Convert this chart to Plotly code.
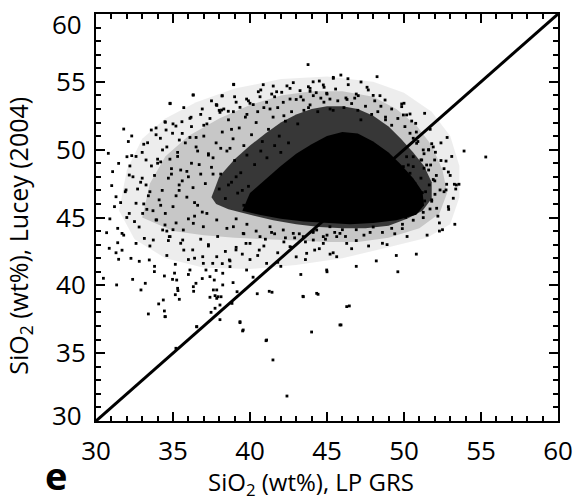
import plotly.graph_objects as go

# Axis / tick setup
x_range = [30, 60]
y_range = [30, 60]
x_tick_vals = [30, 35, 40, 45, 50, 55, 60]
x_tick_text = ["30", "35", "40", "45", "50", "55", "60"]
y_tick_vals = [35, 40, 45, 50, 55]
y_tick_text = ["35", "40", "45", "50", "55"]

# 1:1 reference line
line_x = [30, 60]
line_y = [30, 60]

# Outline of the outer, sparsely speckled fringe of the cloud
fringe_x = [31.5, 32.0, 33.0, 34.5, 36.5, 39.0, 42.0, 45.0, 48.0, 50.0, 51.8, 53.0, 53.6, 53.6, 53.0, 51.5,
            49.0, 46.0, 43.0, 40.0, 37.0, 34.5, 32.5, 31.5]
fringe_y = [45.5, 48.5, 50.8, 52.3, 53.5, 54.5, 55.2, 55.4, 55.0, 54.2, 52.8, 51.0, 48.8, 46.5, 44.5, 43.5,
            42.8, 42.0, 41.5, 41.2, 41.3, 42.0, 43.4, 45.5]
# Outline of the loosely speckled halo
halo_x = [33.0, 33.5, 34.5, 36.0, 38.0, 40.0, 42.0, 44.0, 46.0, 48.0, 49.5, 50.8, 51.8, 52.5, 52.8, 52.3,
          51.0, 49.0, 47.0, 45.0, 43.0, 41.0, 39.0, 37.0, 35.0, 33.0]
halo_y = [45.0, 47.5, 49.5, 51.0, 52.3, 53.3, 54.0, 54.3, 54.3, 53.9, 53.0, 51.8, 50.3, 48.5, 46.8, 45.3,
          44.2, 43.5, 43.2, 43.2, 43.3, 43.4, 43.5, 43.7, 44.0, 45.0]
# Outline of the densely packed part of the cloud
dense_x = [37.5, 38.0, 39.0, 40.0, 41.0, 42.0, 43.0, 44.0, 45.0, 46.0, 47.0, 48.0, 49.0, 49.8, 50.6, 51.3,
           51.8, 51.8, 51.2, 50.2, 49.0, 47.5, 46.0, 44.5, 43.0, 41.5, 40.0, 38.6, 37.8, 37.5]
dense_y = [46.5, 48.0, 49.3, 50.3, 51.2, 52.0, 52.6, 53.0, 53.2, 53.2, 53.0, 52.5, 51.7, 50.8, 49.8, 48.8,
           47.6, 46.4, 45.5, 44.9, 44.4, 44.2, 44.2, 44.3, 44.5, 44.8, 45.2, 45.6, 46.0, 46.5]
# Outline of the solid black core
core_x = [39.5, 40.0, 41.0, 42.0, 43.0, 44.0, 45.0, 46.0, 47.0, 48.0, 49.0, 49.8, 50.6, 51.2, 51.3, 50.8,
          49.5, 48.0, 46.5, 45.0, 43.5, 42.0, 40.6, 39.5]
core_y = [45.5, 46.8, 47.8, 48.8, 49.7, 50.4, 51.0, 51.3, 51.2, 50.6, 49.8, 48.9, 47.9, 46.9, 45.9, 45.2,
          44.8, 44.6, 44.5, 44.6, 44.7, 44.9, 45.2, 45.5]

# Individual points (LP GRS SiO2, Lucey SiO2)
pts_x = [
    38.94, 36.30, 38.18, 34.81, 37.84, 30.80, 31.80, 32.32, 33.59, 34.50, 33.35, 32.01, 32.32, 31.47, 33.25,
    34.18, 35.19, 35.58, 36.17, 34.97, 34.55, 35.41, 34.32,
    31.02, 30.48, 31.34, 30.69, 31.41, 31.69, 30.86, 31.41, 31.69, 31.47, 32.27, 32.38, 33.20, 32.81, 33.46,
    33.79, 34.44, 34.97, 35.30, 35.15, 32.60, 33.14, 32.16, 31.30, 31.95, 31.08, 32.16, 33.25, 32.60, 33.03,
    33.90, 34.33, 34.76, 35.63, 36.28, 36.93, 37.58, 37.14, 38.23, 38.66, 39.09, 39.74, 36.49, 37.68, 38.23,
    37.92,
    32.92, 34.07, 33.40, 34.44, 34.50, 35.15, 35.32, 35.41, 36.34, 36.54, 35.19, 37.40, 37.73, 37.84, 38.12,
    37.62, 37.73, 38.05, 37.47, 38.05, 38.83, 39.16, 40.47, 41.25, 41.43, 39.35, 39.52, 41.04, 41.49, 42.40,
    43.44, 44.42, 46.45, 45.91, 44.00,
    53.90, 55.31, 52.88, 52.73, 51.34, 50.39, 50.50, 50.76, 51.80, 52.04, 51.60, 51.99, 51.15, 51.47, 51.73,
    51.30, 52.77, 53.27, 53.57, 53.36, 52.73, 52.34, 51.64, 52.01, 51.19, 53.20, 52.88, 52.12, 51.69, 51.34,
    51.25, 51.25, 50.71, 50.54, 50.11, 49.89, 49.74, 50.39, 50.17, 50.60, 50.71, 50.06, 50.39, 50.60, 50.28,
    49.96, 50.60, 50.17, 51.10, 51.25, 50.82, 50.60, 50.39, 50.06, 49.96, 49.85, 50.00, 50.17,
    43.77, 38.94, 38.20, 37.81, 40.86, 41.51, 42.81, 44.50, 45.41, 46.36, 47.21, 48.25, 46.38, 43.79, 45.56,
    44.81, 47.68, 48.44, 48.77, 49.85, 47.03, 46.23, 40.54, 39.78, 41.41, 42.06, 43.25, 43.90, 44.11, 44.98,
    45.19, 43.46, 42.60, 42.16, 41.08, 40.21, 39.35, 38.59, 38.05,
    36.32, 34.81, 34.48, 36.10, 37.84, 38.16, 38.92, 40.00, 40.65, 41.73, 42.60, 43.90, 44.76, 45.41,
    33.94, 34.48, 33.72, 34.81, 35.67, 36.32, 36.97, 37.84, 38.92, 39.56, 40.00, 40.65, 41.30, 42.16, 42.81,
    43.46, 44.33, 45.19, 45.84, 44.76, 45.63, 43.68, 42.60, 41.08, 39.78, 38.70, 37.84, 36.97, 36.10, 35.24,
    37.40, 37.84, 36.32, 34.37, 34.48, 36.54, 39.35, 39.56, 41.08, 43.46, 44.33, 45.84, 44.98, 46.28, 46.28,
    44.76, 44.11, 45.63,
    36.5, 37.0, 37.3, 37.8, 38.2, 38.5, 38.9, 39.3, 39.6, 40.1, 40.4, 40.8, 41.2, 41.5, 41.9, 42.3, 42.7, 43.1,
    43.5, 43.9, 44.4, 44.8, 45.2, 45.7, 46.1, 46.6, 47.0, 47.5, 47.9, 48.3, 48.8, 49.2, 49.6, 37.5, 36.8, 36.2,
    35.8, 35.3, 34.9, 35.6, 36.3, 34.6, 34.2, 33.8, 33.5, 34.1, 35.0, 35.9, 36.6, 37.2, 36.0, 35.2, 34.5, 33.3,
    32.9, 32.6, 33.1, 33.9, 35.0, 36.2, 37.4, 38.6, 39.8, 40.9, 36.9, 35.7, 39.1, 41.8, 44.3, 46.9, 48.1, 49.2,
    50.9, 51.3, 51.6, 51.9, 51.1, 51.4, 51.8, 50.9, 50.6, 49.9, 49.2, 48.6, 48.0, 47.4, 46.9, 46.2, 45.5, 44.9,
    44.1, 43.6, 42.9, 42.2, 41.6, 41.0, 40.4, 39.8, 39.1, 38.5, 37.9, 37.3, 38.4, 39.5, 40.6, 41.8, 43.0, 44.2,
    45.2, 46.6, 47.7, 48.9, 50.2, 49.5, 48.2, 46.9, 45.0, 43.3, 42.0, 40.2, 38.9, 49.6, 50.8, 51.5, 52.3, 52.6,
    53.0, 52.4, 51.7, 50.8,
    36.0, 36.7, 37.1, 37.6, 38.0, 38.4, 38.8, 39.2, 39.6, 39.9, 36.4, 36.9, 35.4, 35.9, 34.7, 35.2, 34.0, 33.6,
    38.7, 39.0, 39.4, 39.8, 40.3, 40.7, 41.1, 41.6, 42.0, 42.5, 37.6, 38.1, 38.6, 39.1, 39.5, 36.1, 36.6, 37.0,
    31.2, 31.9, 32.5, 33.0, 33.7, 34.3, 35.0, 35.5, 30.9, 31.6, 32.2, 32.8, 33.4, 34.0, 34.7, 35.4, 31.3, 32.0,
    32.7, 33.5, 34.2, 34.9, 35.7, 36.4, 31.8, 32.4, 33.1, 33.8, 34.6, 35.3, 36.0, 36.8, 32.1, 33.0, 33.9, 34.8,
    35.6, 36.5, 37.3, 38.1,
    36.8, 37.5, 38.3, 39.0, 39.9, 40.7, 41.6, 42.4, 43.3, 44.1, 45.0, 45.9, 46.8, 47.6, 48.5, 37.2, 38.0, 38.8,
    39.7, 40.5, 41.3, 42.2, 43.0, 43.8, 44.6, 45.4, 46.3, 47.2, 48.0, 48.8,
    34.6, 35.5, 36.4, 37.3, 38.2, 39.1, 40.0, 40.9, 41.8, 42.7, 43.6, 44.5, 45.4, 35.1, 36.0, 36.9, 37.8, 38.7,
    39.6, 40.5, 41.4, 42.3, 43.2, 44.1, 45.0, 46.0, 46.9, 47.8, 48.6, 49.4,
    52.2, 52.5, 52.9, 53.3, 52.0, 52.6, 53.1, 51.9, 52.4, 52.8, 51.6, 52.1, 53.4, 52.3, 51.8,
]
pts_y = [
    54.82, 54.03, 53.96, 53.39, 53.27, 49.73, 51.52, 51.01, 51.45, 52.02, 50.51, 49.48, 49.56, 48.99, 49.24,
    50.84, 51.74, 52.06, 52.39, 51.21, 51.45, 50.71, 49.98,
    47.35, 40.52, 40.03, 43.88, 44.20, 43.83, 42.73, 43.14, 42.59, 41.92, 41.99, 40.44, 40.15, 41.77, 41.87,
    41.01, 40.69, 40.44, 39.78, 41.55, 43.09, 43.46, 45.30, 46.53, 47.03, 48.38, 48.13, 47.40, 46.05, 45.30,
    44.82, 44.08, 43.59, 43.34, 42.61, 42.11, 41.62, 41.13, 40.89, 41.87, 42.61, 43.09, 40.15, 40.39, 40.03,
    39.16,
    39.66, 38.63, 37.89, 38.11, 37.69, 39.31, 39.61, 38.97, 39.56, 36.95, 35.36, 39.12, 39.24, 39.04, 39.16,
    39.66, 38.31, 38.55, 38.01, 37.47, 38.67, 39.53, 39.38, 39.56, 39.49, 37.25, 36.64, 35.92, 34.50, 31.84,
    39.19, 39.34, 38.48, 37.08, 36.56,
    49.90, 49.46, 48.35, 49.16, 52.68, 52.63, 52.11, 51.94, 50.44, 49.81, 49.98, 49.24, 49.24, 48.87, 48.87,
    48.63, 47.45, 47.45, 47.45, 47.10, 47.03, 47.03, 47.40, 46.71, 46.83, 46.42, 45.80, 45.68, 45.63, 46.22,
    45.38, 44.99, 45.80, 45.41, 45.01, 44.18, 45.18, 46.29, 47.03, 47.15, 47.52, 47.76, 48.26, 48.75, 48.87,
    48.75, 49.48, 49.48, 49.24, 49.98, 50.47, 50.84, 51.21, 51.70, 52.56, 53.17, 53.42, 52.56,
    56.27, 54.79, 53.98, 53.32, 54.79, 54.69, 54.94, 55.06, 55.33, 55.23, 54.99, 55.38, 54.79, 54.64, 54.47,
    54.60, 54.40, 53.98, 53.66, 53.37, 53.98, 53.81, 54.27, 53.73, 54.10, 54.23, 54.35, 54.30, 53.98, 54.16,
    53.73, 53.66, 53.73, 53.49, 53.49, 53.32, 53.12, 52.83, 52.75,
    54.03, 53.42, 52.06, 52.31, 53.29, 52.92, 52.80, 53.42, 53.90, 54.27, 54.52, 54.52, 54.77, 55.26,
    44.82, 44.45, 43.34, 43.59, 44.08, 44.57, 44.32, 44.82, 44.32, 43.83, 43.09, 43.59, 44.32, 44.08, 43.83,
    43.59, 44.08, 44.32, 43.83, 43.09, 42.11, 42.36, 42.85, 41.62, 41.13, 41.38, 42.11, 41.62, 41.13, 40.39,
    40.64, 39.66, 39.90, 38.92, 37.69, 36.95, 37.32, 36.71, 35.97, 39.16, 39.41, 37.08, 41.13, 43.09, 38.43,
    43.59, 43.34, 43.59,
    50.2, 51.0, 49.6, 50.5, 51.3, 49.9, 50.8, 51.6, 50.3, 51.1, 52.0, 50.6, 51.5, 52.4, 51.0, 52.1, 52.8, 51.9,
    52.9, 53.3, 52.8, 53.5, 53.0, 53.6, 53.1, 53.4, 52.9, 53.2, 52.6, 52.8, 52.2, 51.8, 52.3, 48.7, 48.2, 49.0,
    50.5, 49.5, 48.6, 47.7, 47.2, 50.2, 49.1, 48.1, 46.9, 46.3, 45.8, 46.5, 45.9, 45.3, 44.9, 44.6, 45.3, 45.6,
    47.6, 49.5, 50.4, 51.6, 51.9, 51.7, 52.3, 52.2, 52.6, 53.1, 53.0, 53.1, 53.5, 53.1, 54.2, 54.1, 53.6, 53.0,
    50.6, 49.7, 48.5, 47.8, 47.9, 46.9, 46.2, 45.9, 44.8, 44.5, 44.2, 43.9, 44.3, 43.7, 44.1, 43.6, 43.9, 43.4,
    43.9, 43.2, 43.5, 43.2, 43.8, 43.4, 44.0, 44.5, 44.9, 44.2, 43.6, 43.0, 42.5, 42.3, 42.6, 42.4, 42.1, 42.6,
    42.3, 42.7, 42.9, 43.0, 43.6, 42.2, 41.8, 41.4, 41.0, 40.8, 41.4, 40.6, 40.2, 41.0, 42.3, 43.7, 44.6, 46.9,
    48.1, 50.5, 51.5, 51.3,
    48.0, 48.9, 47.5, 48.2, 47.1, 46.4, 47.6, 46.8, 45.9, 47.3, 46.1, 45.4, 47.0, 48.4, 47.9, 46.6, 49.3, 48.8,
    50.1, 49.2, 48.3, 49.6, 48.9, 49.9, 49.4, 50.3, 49.8, 50.5, 49.4, 48.2, 47.4, 48.0, 47.0, 50.9, 49.9, 51.8,
    45.8, 46.9, 44.7, 47.9, 45.5, 47.0, 44.1, 48.5, 44.9, 46.1, 48.8, 44.3, 46.6, 49.0, 43.3, 47.4, 42.4, 45.0,
    47.1, 42.9, 45.9, 48.2, 42.6, 45.1, 43.7, 48.0, 46.0, 41.4, 44.0, 49.8, 41.9, 43.4, 50.6, 49.8, 51.1, 49.3,
    51.2, 50.9, 49.7, 50.1,
    52.6, 53.6, 53.0, 53.9, 53.6, 54.4, 53.9, 54.7, 53.9, 55.0, 54.1, 55.5, 53.8, 54.6, 53.2, 51.9, 52.9, 51.5,
    52.4, 52.8, 53.0, 52.5, 53.7, 53.1, 53.8, 52.9, 53.7, 52.2, 54.0, 52.4,
    42.2, 43.1, 42.0, 42.9, 41.6, 42.8, 41.9, 42.9, 41.7, 42.8, 41.9, 42.7, 42.4, 40.9, 40.8, 40.5, 41.1, 41.8,
    43.8, 42.2, 43.9, 43.5, 43.8, 44.0, 43.7, 44.1, 43.3, 43.9, 43.1, 43.8,
    45.1, 44.1, 45.6, 44.5, 47.7, 48.6, 49.5, 50.2, 49.2, 50.9, 50.0, 48.1, 47.4, 44.0, 46.3,
]

fig = go.Figure()

for ox, oy, col in [(fringe_x, fringe_y, "rgba(0,0,0,0.07)"),
                    (halo_x, halo_y, "rgba(0,0,0,0.16)"),
                    (dense_x, dense_y, "rgba(0,0,0,0.72)"),
                    (core_x, core_y, "black")]:
    fig.add_trace(go.Scatter(x=ox, y=oy, mode="lines", fill="toself", fillcolor=col,
                             line=dict(width=0), hoverinfo="skip", showlegend=False))

fig.add_trace(go.Scatter(x=pts_x, y=pts_y, mode="markers",
                         marker=dict(symbol="square", size=2.8, color="black", line=dict(width=0)),
                         showlegend=False))
fig.add_trace(go.Scatter(x=line_x, y=line_y, mode="lines",
                         line=dict(color="black", width=3), showlegend=False))

tick_font = dict(family="Open Sans", size=26, color="black")

axis_common = dict(
    showgrid=False, zeroline=False, showline=True, linecolor="black", linewidth=2,
    mirror="ticks", ticks="inside", ticklen=9, tickwidth=2, tickcolor="black",
    automargin=False,
    minor=dict(ticks="inside", ticklen=5, tickwidth=1.5, tickcolor="black", dtick=1, showgrid=False),
    tickfont=tick_font,
)

fig.update_xaxes(range=x_range, tickvals=x_tick_vals, ticktext=x_tick_text, ticklabelstandoff=6,
                 **axis_common)
fig.update_yaxes(range=y_range, tickvals=y_tick_vals, ticktext=y_tick_text, ticklabelstandoff=3,
                 **axis_common)

fig.add_annotation(text="60", xref="paper", yref="y", x=0, y=60, xanchor="right", yanchor="middle",
                   xshift=-12, yshift=-10, showarrow=False, font=tick_font)
fig.add_annotation(text="30", xref="paper", yref="y", x=0, y=30, xanchor="right", yanchor="middle",
                   xshift=-12, yshift=6, showarrow=False, font=tick_font)

fig.add_annotation(text="SiO<sub>2</sub> (wt%), LP GRS", xref="paper", yref="paper",
                   x=0.465, y=-0.2015, xanchor="center", yanchor="bottom", showarrow=False,
                   font=dict(family="Open Sans", size=24, color="black"))
fig.add_annotation(text="SiO<sub>2</sub> (wt%), Lucey (2004)", xref="paper", yref="paper",
                   x=-0.1645, y=0.455, xanchor="center", yanchor="middle", textangle=-90,
                   showarrow=False, font=dict(family="Open Sans", size=25, color="black"))
fig.add_annotation(text="<b>e</b>", xref="paper", yref="paper", x=-0.087, y=-0.2015,
                   xanchor="center", yanchor="bottom", showarrow=False,
                   font=dict(family="Open Sans", size=38, color="black"))

fig.update_layout(width=574, height=504, margin=dict(l=96, r=16, t=14, b=83),
                  plot_bgcolor="white", paper_bgcolor="white")

fig.write_html("out.html")
